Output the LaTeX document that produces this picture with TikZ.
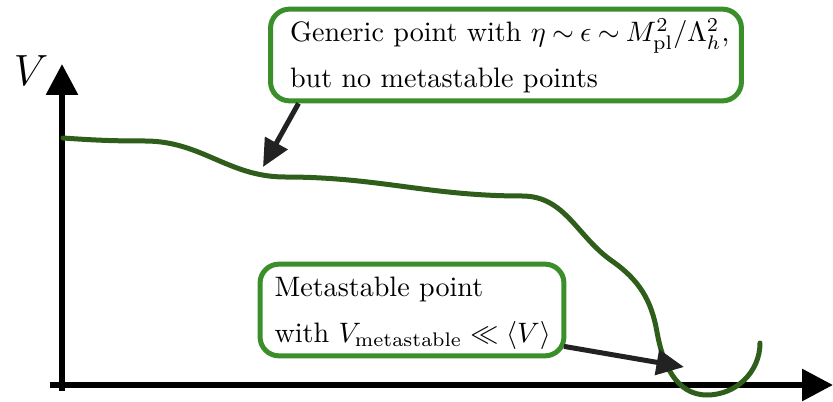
\documentclass[tikz,border=0pt]{standalone}
\usepackage{amsmath,amssymb}
\usepackage{graphicx}
\usepackage{tikz}
\usetikzlibrary{arrows.meta, positioning, calc}
\definecolor{boxcolor}{HTML}{3A8F2B}
\definecolor{potcolor}{HTML}{2E5E1A}
\definecolor{pointcolor}{HTML}{222222}
\newcommand{\calloutText}[1]{\scalebox{1.6}{\renewcommand{\arraystretch}{1.36}%
  \begin{tabular}{@{}l@{}}#1\end{tabular}}}

\begin{document}
\begin{tikzpicture}[
  x=0.02cm, y=-0.02cm,
  axis/.style={line width=0.12cm, -{Triangle[length=0.62cm, width=0.62cm]}},
  potential/.style={line width=0.1cm, color=potcolor, line cap=round},
  callout/.style={draw=boxcolor, line width=0.1cm, rounded corners=0.38cm,
                  fill=white, inner sep=0pt},
  pointer/.style={line width=0.1cm, color=pointcolor,
                  -{Triangle[length=0.55cm, width=0.5cm]}},
]
\useasboundingbox (0,0) rectangle (833,402);

%% axes
\coordinate (origin) at (62,385);
\coordinate (vtop) at (62,64);
\coordinate (xend) at (833,385);
\draw[axis] (62,391) -- (vtop);
\draw[axis] (50,385) -- (xend);
\node[font=\fontsize{23}{26}\selectfont] (vlabel) at (31,71) {$V$};

%% potential
\draw[potential] (63,138) to[out=-4, in=180] (145,141)
  to[out=0, in=180] (285,177)
  to[out=0, in=180] (522,196)
  to[out=0, in=145] (612,261)
  to[out=-35, in=100] (657,332)
  to[out=-80, in=180] (707,395)
  to[out=0, in=-90] (760,343);

%% callouts
\node[callout, minimum width=9.42cm, minimum height=1.54cm] (generic) at (506,55)
  {\makebox[9.42cm][l]{\hspace*{0.39cm}\calloutText{%
   Generic point with
   $\thickmuskip=4mu \eta\sim\epsilon\sim M_{\mathrm{pl}}^2/\Lambda_h^2$,\\
   but no metastable points}}};
\node[callout, minimum width=6.08cm, minimum height=1.8cm] (meta) at (412,310)
  {\makebox[6.08cm][l]{\hspace*{0.29cm}\calloutText{%
   Metastable point\\
   with $V_{\mathrm{metastable}}\ll\langle V\rangle$}}};

%% pointers
\coordinate (generictip) at (263,167);
\coordinate (metatip) at (684,367);
\draw[pointer] ($(generic.south west)!0.064!(generic.south east)$) -- (generictip);
\draw[pointer] ($(meta.south east)+(-0.05cm,0.24cm)$) -- (metatip);

\end{tikzpicture}
\end{document}
